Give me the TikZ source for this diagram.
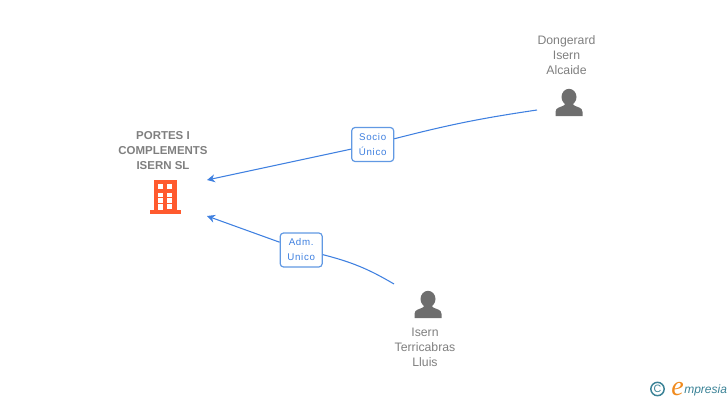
\documentclass[tikz,border=0pt]{standalone}
\usepackage{fontspec}
\usetikzlibrary{arrows.meta}
\setmainfont{Liberation Sans}
\newfontfamily\logofont{Liberation Serif}
\definecolor{linkblue}{HTML}{3F80E0}
\definecolor{boxblue}{HTML}{6199E3}
\definecolor{namegray}{HTML}{7F7F7F}
\definecolor{icongray}{HTML}{6E6E6E}
\definecolor{firmorange}{HTML}{FF5A2E}
\definecolor{logoteal}{HTML}{3A8296}
\definecolor{logoorange}{HTML}{F08A1D}
\tikzset{
  namelabel/.style={text=namegray,align=center,inner sep=0pt,font=\fontsize{9.2}{11.25}\selectfont},
  rolebox/.style={draw=boxblue,line width=0.9pt,fill=white,rounded corners=2.5pt,text=linkblue,align=center,
    minimum width=31.5pt,minimum height=25.5pt,inner sep=0pt,font=\fontsize{7.3}{11.25}\selectfont\addfontfeature{LetterSpace=7}},
  link/.style={draw=linkblue,line width=0.8pt},
  person/.pic={
    \fill[icongray] (0,0) ellipse (7.5 and 8.2);
    \fill[icongray] (-4,4) -- (-4.5,8) .. controls (-8,10.5) and (-13.5,10) .. (-13.5,15) -- (-13.5,19) -- (13.5,19) -- (13.5,15)
      .. controls (13.5,10) and (8,10.5) .. (4.5,8) -- (4,4) -- cycle;
  }
}
\begin{document}
\begin{tikzpicture}[x=0.75pt,y=-0.75pt]
\useasboundingbox (0,0) rectangle (728,400);

% firm
\node[namelabel,font=\fontsize{8.6}{11.25}\selectfont\bfseries] (portes) at (163,151) {PORTES I\\COMPLEMENTS\\ISERN SL};
\fill[firmorange] (154,180) rectangle (177,211);
\fill[firmorange] (149.5,210) rectangle (181,214);
\foreach \y in {184,192.5,198} {
\fill[white] (158,\y) rectangle (163,\y+4.5);
\fill[white] (167,\y) rectangle (172,\y+4.5);}
\fill[white] (158,204) rectangle (163,210);
\fill[white] (167,204) rectangle (172,208.5);
\coordinate (portestop) at (207,180);
\coordinate (portesbottom) at (207,216);

% people
\node[namelabel] (dongerard) at (566.5,55) {Dongerard\\Isern\\Alcaide};
\pic at (569,97) {person};
\coordinate (dongerardend) at (537,110);
\node[namelabel] (isern) at (425,347) {Isern\\Terricabras\\Lluis};
\pic at (428,299) {person};
\coordinate (isernend) at (394,284);

% links
\node[rolebox] (socio) at (372.7,144.5) {Socio\\Único};
\node[rolebox] (adm) at (301.2,250) {Adm.\\Unico};
\draw[link] (dongerardend) to[bend right=3] (socio);
\draw[link,-{Stealth[length=6pt,width=6pt]}] (socio) -- (portestop);
\draw[link] (isernend) to[bend right=8] (adm);
\draw[link,-{Stealth[length=6pt,width=6pt]}] (adm) -- (portesbottom);

% logo
\node[draw=logoteal,line width=1.1pt,circle,minimum size=10pt,inner sep=0pt,text=logoteal,font=\fontsize{8}{8}\selectfont] (copyright) at (657.5,389) {C};
\node[text=logoorange,inner sep=0pt,font=\logofont\fontsize{21}{21}\selectfont\itshape] (logoe) at (677.5,389) {e};
\node[anchor=west,text=logoteal,inner sep=0pt,font=\fontsize{9}{10}\selectfont\itshape] (logotext) at (684,390.5) {mpresia};
\end{tikzpicture}
\end{document}
